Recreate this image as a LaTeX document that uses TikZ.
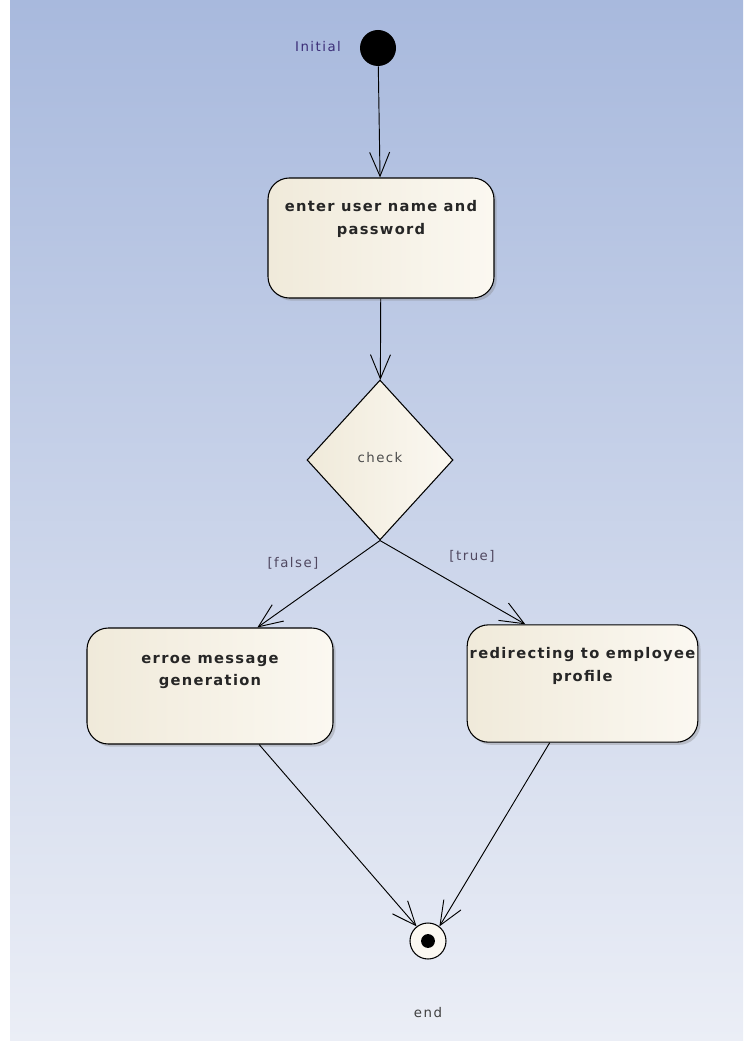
\documentclass[tikz,border=0pt]{standalone}
\usepackage{fontspec}
\setmainfont{DejaVu Sans}
\newfontfamily\umlfont[LetterSpace=11]{DejaVu Sans}
\newfontfamily\actfont[LetterSpace=9]{DejaVu Sans}
\usetikzlibrary{positioning,shapes.geometric,arrows.meta,shadows}

\definecolor{bgtop}{RGB}{168,185,221}
\definecolor{bgbot}{RGB}{235,238,246}
\definecolor{creamL}{RGB}{240,234,218}
\definecolor{creamR}{RGB}{251,248,241}
\definecolor{guard}{RGB}{80,72,96}
\definecolor{initc}{RGB}{60,46,120}

\begin{document}
\begin{tikzpicture}[x=0.75pt,y=-0.75pt,
  act/.style={draw, line width=0.8pt, rounded corners=16pt, left color=creamL, right color=creamR,
    drop shadow={shadow xshift=2pt, shadow yshift=-2pt, fill=gray, opacity=0.35}},
  acttext/.style={align=center, font=\actfont\bfseries\fontsize{11}{17}\selectfont, text=black!85},
  flow/.style={-{Straight Barb[length=18pt,width=15pt]}, line width=0.7pt},
  small/.style={font=\umlfont\fontsize{10}{12}\selectfont}]

\useasboundingbox (0,0) rectangle (743,1041);
\fill[white] (0,0) rectangle (743,1041);
\shade[top color=bgtop, bottom color=bgbot] (10,0) rectangle (743,1041);

\node[circle, fill=black, minimum size=27pt, inner sep=0] (init) at (378,48) {};
\node[small, text=initc] (initlbl) at (318,47) {Initial};

\node[act, minimum width=169.5pt, minimum height=90pt] (login) at (381,238) {};
\node[acttext, below=14pt of login.north] (logintxt) {enter user name and\\password};

\node[diamond, draw, line width=0.8pt, left color=creamL, right color=creamR,
  minimum width=109.5pt, minimum height=120pt, inner sep=0] (check) at (380,460) {};
\node[small, text=black!70] (checktxt) at (380,458) {check};

\node[act, minimum width=184.5pt, minimum height=87pt] (err) at (210,686) {};
\node[acttext, below=17pt of err.north] (errtxt) {erroe message\\generation};

\node[act, minimum width=173pt, minimum height=88pt] (redir) at (582.5,683.5) {};
\node[acttext, below=14pt of redir.north] (redirtxt) {redirecting to employee\\profile};

\node[circle, draw, line width=0.8pt, fill=creamR, minimum size=27pt, inner sep=0] (end) at (428,941) {};
\fill (end.center) circle (5.2pt);
\node[small, text=black!75] (endlbl) at (428,1013) {end};

\node[small, text=guard] (falselbl) at (293,563) {[false]};
\node[small, text=guard] (truelbl) at (472,556) {[true]};

\draw[flow] (init) -- (login);
\draw[flow] (login) -- (check);
\draw[flow] (check.south) -- (err.51);
\draw[flow] (check.south) -- (redir.134);
\draw[flow] (err.-50) -- (end.128);
\draw[flow] (redir.-119) -- (end.52);

\end{tikzpicture}
\end{document}
